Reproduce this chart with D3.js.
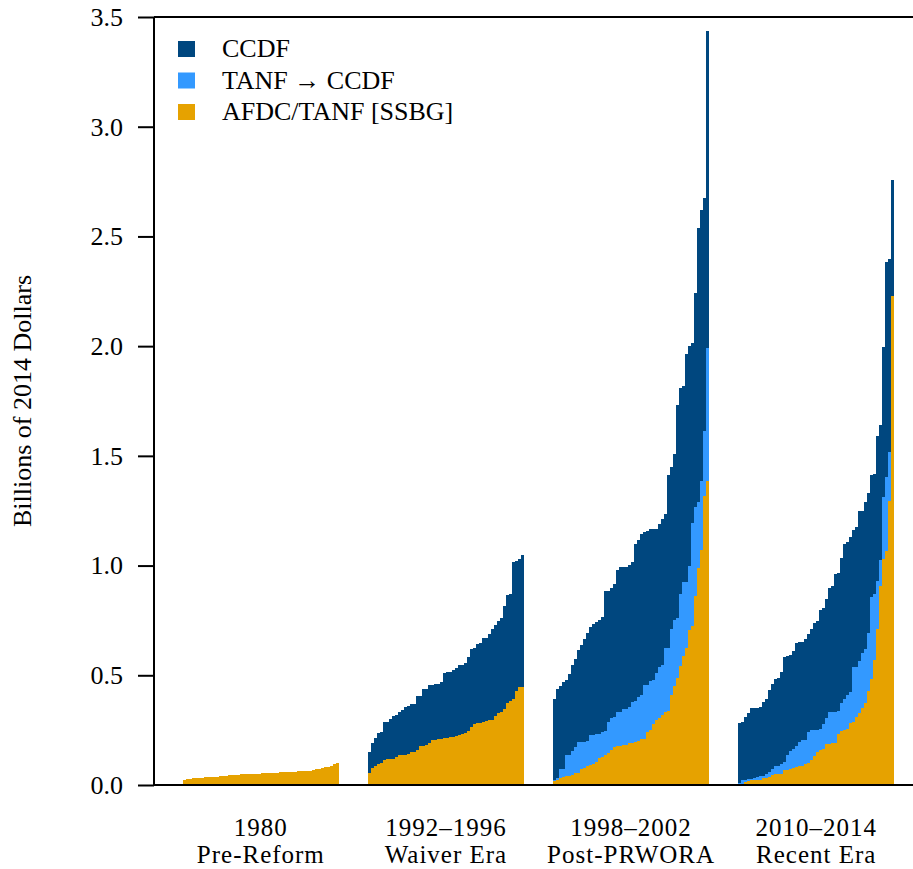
<!DOCTYPE html>
<html>
<head>
<meta charset="utf-8">
<script src="https://cdn.jsdelivr.net/npm/d3@7"></script>
<style>
  html, body { margin: 0; padding: 0; background: #ffffff; }
  svg { display: block; }
  text { font-family: "Liberation Serif", "Times New Roman", serif; fill: #000; }
</style>
</head>
<body>
<svg id="chart" width="913" height="869"></svg>
<script>
// Eras shown along the x axis
const eraYears = ["1980", "1992\u20131996", "1998\u20132002", "2010\u20132014"];
const eraNames = ["Pre-Reform", "Waiver Era", "Post-PRWORA", "Recent Era"];

// Stack order (bottom to top) and legend labels
const seriesKeys = ["afdc", "transfer", "ccdf"];
const seriesLabels = ["AFDC/TANF [SSBG]", "TANF \u2192 CCDF", "CCDF"];
const seriesColors = ["#e6a200", "#3399ff", "#00477f"];

const yTicks = [0, 0.5, 1.0, 1.5, 2.0, 2.5, 3.0, 3.5];

// Spending per state, billions of 2014 dollars, states ranked by total within each era
const afdc1980 = [0.023,0.027,0.027,0.032,0.032,0.032,0.032,0.036,0.036,0.036,0.036,0.036,0.041,0.041,0.041,0.046,0.046,0.046,0.046,0.050,0.050,0.050,0.050,0.050,0.050,0.050,0.055,0.055,0.055,0.055,0.055,0.055,0.059,0.059,0.059,0.059,0.059,0.059,0.064,0.064,0.064,0.064,0.064,0.068,0.073,0.073,0.077,0.082,0.082,0.087,0.096,0.100];

const afdc1992 = [0.055,0.077,0.087,0.096,0.100,0.114,0.119,0.119,0.119,0.128,0.137,0.137,0.137,0.141,0.150,0.150,0.160,0.178,0.178,0.182,0.191,0.205,0.205,0.210,0.210,0.214,0.214,0.219,0.219,0.223,0.228,0.232,0.237,0.246,0.264,0.278,0.283,0.283,0.287,0.292,0.296,0.296,0.314,0.328,0.333,0.346,0.374,0.383,0.392,0.428,0.447,0.447];
const ccdf1992 = [0.095,0.114,0.127,0.141,0.142,0.173,0.168,0.182,0.195,0.191,0.196,0.205,0.218,0.219,0.219,0.219,0.246,0.228,0.259,0.255,0.265,0.251,0.255,0.250,0.259,0.296,0.301,0.296,0.305,0.310,0.319,0.315,0.319,0.337,0.356,0.346,0.360,0.364,0.383,0.378,0.392,0.415,0.415,0.419,0.428,0.470,0.492,0.487,0.624,0.593,0.583,0.601];

const afdc1998 = [0.018,0.022,0.032,0.036,0.041,0.041,0.046,0.055,0.055,0.073,0.077,0.087,0.091,0.096,0.105,0.123,0.128,0.137,0.146,0.160,0.173,0.178,0.178,0.182,0.182,0.191,0.191,0.196,0.201,0.210,0.210,0.242,0.251,0.278,0.296,0.305,0.319,0.333,0.337,0.410,0.451,0.488,0.542,0.588,0.624,0.707,0.725,0.861,0.989,1.071,1.317,1.386];
const transfer1998 = [0.005,0.010,0.041,0.037,0.096,0.096,0.109,0.118,0.141,0.123,0.119,0.114,0.137,0.132,0.127,0.109,0.114,0.109,0.141,0.145,0.137,0.155,0.155,0.164,0.164,0.165,0.187,0.187,0.200,0.200,0.246,0.214,0.223,0.201,0.214,0.233,0.228,0.291,0.287,0.301,0.301,0.273,0.328,0.337,0.301,0.291,0.469,0.406,0.301,0.315,0.296,0.606];
const ccdf1998 = [0.369,0.406,0.378,0.396,0.342,0.369,0.392,0.401,0.419,0.442,0.469,0.492,0.492,0.506,0.511,0.520,0.524,0.638,0.597,0.593,0.606,0.647,0.661,0.648,0.648,0.647,0.638,0.715,0.716,0.734,0.697,0.702,0.693,0.688,0.657,0.652,0.665,0.611,0.789,0.738,0.757,0.971,0.939,0.894,1.039,1.003,0.821,0.975,1.249,1.235,1.062,1.445];

const afdc2010 = [0.005,0.005,0.014,0.018,0.023,0.023,0.023,0.023,0.032,0.032,0.036,0.046,0.050,0.050,0.050,0.068,0.068,0.073,0.077,0.082,0.087,0.087,0.096,0.100,0.114,0.132,0.150,0.160,0.164,0.187,0.187,0.191,0.191,0.232,0.246,0.251,0.255,0.283,0.287,0.310,0.328,0.350,0.375,0.428,0.483,0.570,0.711,0.907,1.030,1.066,1.294,2.229];
const transfer2010 = [0.004,0.018,0.009,0.009,0.004,0.009,0.013,0.018,0.009,0.018,0.023,0.027,0.037,0.037,0.046,0.037,0.069,0.082,0.087,0.096,0.109,0.118,0.109,0.142,0.137,0.119,0.101,0.095,0.114,0.118,0.146,0.142,0.142,0.105,0.128,0.141,0.155,0.141,0.251,0.228,0.237,0.252,0.245,0.265,0.374,0.300,0.219,0.118,0.282,0.338,0.224,0.000];
const ccdf2010 = [0.274,0.264,0.287,0.301,0.324,0.319,0.315,0.314,0.337,0.342,0.374,0.387,0.396,0.401,0.419,0.478,0.451,0.437,0.447,0.469,0.456,0.447,0.460,0.446,0.460,0.487,0.496,0.543,0.529,0.543,0.565,0.574,0.629,0.629,0.660,0.706,0.697,0.706,0.624,0.638,0.684,0.647,0.670,0.638,0.556,0.547,0.661,0.616,0.684,0.980,0.879,0.528];

// One entry per era: which arrays feed each stack layer
const eraSeries = [
  { afdc: afdc1980 },
  { afdc: afdc1992, ccdf: ccdf1992 },
  { afdc: afdc1998, transfer: transfer1998, ccdf: ccdf1998 },
  { afdc: afdc2010, transfer: transfer2010, ccdf: ccdf2010 }
];

const rows = [];
eraYears.forEach((era, e) => {
  const s = eraSeries[e];
  s.afdc.forEach((_, i) => {
    rows.push({
      era: era,
      rank: i,
      afdc: s.afdc[i],
      transfer: s.transfer ? s.transfer[i] : 0,
      ccdf: s.ccdf ? s.ccdf[i] : 0
    });
  });
});

const svg = d3.select("#chart");
const margin = { left: 154, top: 17, bottom: 785, right: 923 };

const x0 = d3.scaleBand()
  .domain(eraYears)
  .range([margin.left, margin.right])
  .paddingInner(0.16)
  .paddingOuter(0.157);

const x1 = d3.scaleBand()
  .domain(d3.range(afdc1980.length))
  .range([0, x0.bandwidth()])
  .padding(0);

const y = d3.scaleLinear().domain([0, 3.5]).range([margin.bottom, margin.top]);

const color = d3.scaleOrdinal().domain(seriesKeys).range(seriesColors);

const stacked = d3.stack().keys(seriesKeys)(rows);

// Stacked bars
svg.append("g")
  .selectAll("g")
  .data(stacked)
  .join("g")
  .attr("fill", d => color(d.key))
  .selectAll("rect")
  .data(d => d.filter(p => p[1] - p[0] > 0))
  .join("rect")
  .attr("shape-rendering", "crispEdges")
  .attr("x", d => x0(d.data.era) + x1(d.data.rank))
  .attr("width", x1.bandwidth() + 0.05)
  .attr("y", d => y(d[1]))
  .attr("height", d => y(d[0]) - y(d[1]));

// Left axis
const yAxis = d3.axisLeft(y)
  .tickValues(yTicks)
  .tickFormat(d3.format(".1f"))
  .tickSize(16)
  .tickPadding(15);

const gy = svg.append("g")
  .attr("transform", `translate(${margin.left},0)`)
  .call(yAxis);
gy.select(".domain").remove();
gy.selectAll(".tick line").attr("stroke", "#000").attr("stroke-width", 2);
gy.selectAll(".tick text")
  .style("font-family", "'Liberation Serif', serif")
  .style("font-size", "26px")
  .attr("fill", "#000");

// Frame: left, top and bottom edges
const frame = svg.append("g").attr("stroke", "#000").attr("stroke-width", 2).attr("fill", "none");
frame.append("line").attr("x1", margin.left).attr("x2", margin.left).attr("y1", margin.top).attr("y2", margin.bottom);
frame.append("line").attr("x1", margin.left).attr("x2", margin.right).attr("y1", margin.top).attr("y2", margin.top);
frame.append("line").attr("x1", margin.left).attr("x2", margin.right).attr("y1", margin.bottom).attr("y2", margin.bottom);

// Era labels below the plot
const xl = svg.append("g")
  .selectAll("g")
  .data(eraYears)
  .join("g")
  .attr("transform", d => `translate(${x0(d) + x0.bandwidth() / 2},0)`)
  .style("font-size", "25px")
  .style("letter-spacing", "1px");
xl.append("text")
  .attr("y", 835.5)
  .attr("text-anchor", "middle")
  .text(d => d);
xl.append("text")
  .attr("y", 863.3)
  .attr("text-anchor", "middle")
  .text((d, i) => eraNames[i]);

// Y axis title
svg.append("text")
  .attr("transform", `translate(31,${(margin.top + margin.bottom) / 2}) rotate(-90)`)
  .attr("text-anchor", "middle")
  .style("font-size", "26px")
  .text("Billions of 2014 Dollars");

// Legend, top series first
const legendOrder = seriesKeys.slice().reverse();
const legend = svg.append("g")
  .selectAll("g")
  .data(legendOrder)
  .join("g")
  .attr("transform", (d, i) => `translate(178,${41 + i * 31.5})`);
legend.append("rect")
  .attr("width", 17)
  .attr("height", 16)
  .attr("fill", d => color(d));
legend.append("text")
  .attr("x", 44)
  .attr("y", 16)
  .style("font-size", "26px")
  .text(d => seriesLabels[seriesKeys.indexOf(d)]);
</script>
</body>
</html>
